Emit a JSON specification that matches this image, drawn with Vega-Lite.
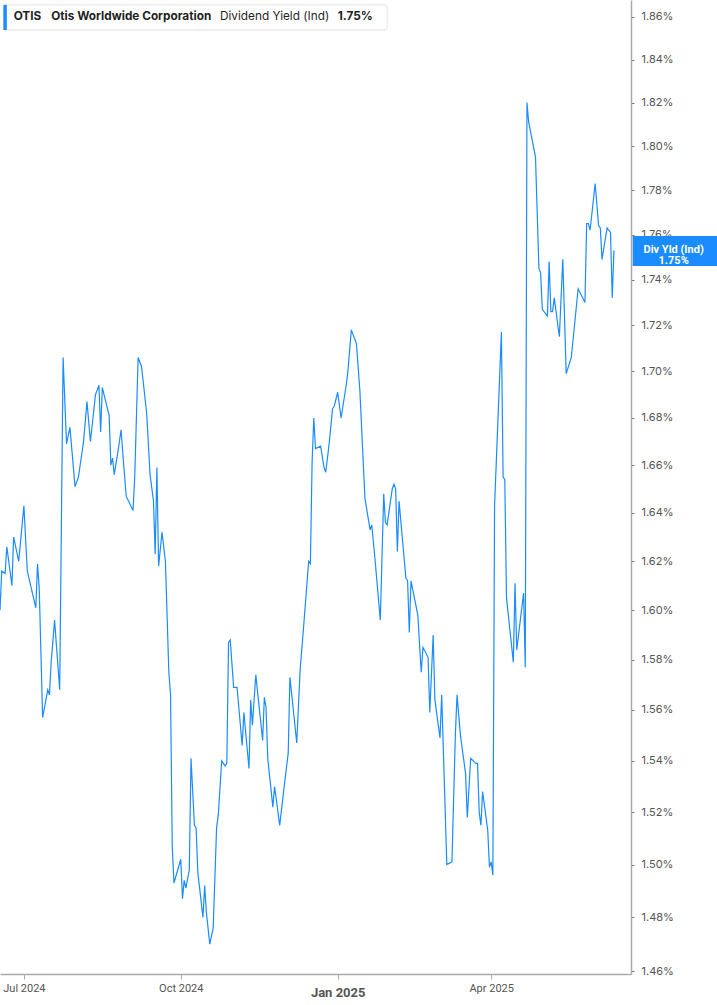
{
  "$schema": "https://vega.github.io/schema/vega-lite/v6.json",
  "width": 631,
  "height": 974,
  "autosize": {"type": "none"},
  "padding": {"left": 0, "top": 0, "right": 86, "bottom": 31},
  "background": "white",
  "config": {"view": {"stroke": null}, "font": "Roboto"},
  "datasets": {
    "otis": [
      {"date": "2024-06-17", "yield": 1.600},
      {"date": "2024-06-18", "yield": 1.616},
      {"date": "2024-06-20", "yield": 1.615},
      {"date": "2024-06-21", "yield": 1.626},
      {"date": "2024-06-24", "yield": 1.610},
      {"date": "2024-06-25", "yield": 1.630},
      {"date": "2024-06-28", "yield": 1.620},
      {"date": "2024-07-01", "yield": 1.643},
      {"date": "2024-07-03", "yield": 1.616},
      {"date": "2024-07-08", "yield": 1.601},
      {"date": "2024-07-09", "yield": 1.619},
      {"date": "2024-07-10", "yield": 1.609},
      {"date": "2024-07-12", "yield": 1.557},
      {"date": "2024-07-15", "yield": 1.568},
      {"date": "2024-07-16", "yield": 1.566},
      {"date": "2024-07-17", "yield": 1.579},
      {"date": "2024-07-19", "yield": 1.596},
      {"date": "2024-07-22", "yield": 1.568},
      {"date": "2024-07-24", "yield": 1.706},
      {"date": "2024-07-26", "yield": 1.669},
      {"date": "2024-07-28", "yield": 1.676},
      {"date": "2024-07-31", "yield": 1.651},
      {"date": "2024-08-02", "yield": 1.655},
      {"date": "2024-08-05", "yield": 1.670},
      {"date": "2024-08-07", "yield": 1.687},
      {"date": "2024-08-09", "yield": 1.670},
      {"date": "2024-08-12", "yield": 1.690},
      {"date": "2024-08-14", "yield": 1.694},
      {"date": "2024-08-15", "yield": 1.674},
      {"date": "2024-08-16", "yield": 1.693},
      {"date": "2024-08-18", "yield": 1.687},
      {"date": "2024-08-20", "yield": 1.681},
      {"date": "2024-08-21", "yield": 1.660},
      {"date": "2024-08-22", "yield": 1.663},
      {"date": "2024-08-23", "yield": 1.656},
      {"date": "2024-08-25", "yield": 1.665},
      {"date": "2024-08-27", "yield": 1.675},
      {"date": "2024-08-28", "yield": 1.665},
      {"date": "2024-08-30", "yield": 1.647},
      {"date": "2024-09-03", "yield": 1.641},
      {"date": "2024-09-04", "yield": 1.655},
      {"date": "2024-09-06", "yield": 1.706},
      {"date": "2024-09-08", "yield": 1.702},
      {"date": "2024-09-11", "yield": 1.682},
      {"date": "2024-09-13", "yield": 1.656},
      {"date": "2024-09-15", "yield": 1.645},
      {"date": "2024-09-16", "yield": 1.623},
      {"date": "2024-09-17", "yield": 1.659},
      {"date": "2024-09-18", "yield": 1.618},
      {"date": "2024-09-20", "yield": 1.632},
      {"date": "2024-09-22", "yield": 1.620},
      {"date": "2024-09-24", "yield": 1.575},
      {"date": "2024-09-25", "yield": 1.566},
      {"date": "2024-09-26", "yield": 1.507},
      {"date": "2024-09-27", "yield": 1.493},
      {"date": "2024-10-01", "yield": 1.502},
      {"date": "2024-10-02", "yield": 1.487},
      {"date": "2024-10-03", "yield": 1.494},
      {"date": "2024-10-04", "yield": 1.491},
      {"date": "2024-10-06", "yield": 1.498},
      {"date": "2024-10-07", "yield": 1.541},
      {"date": "2024-10-09", "yield": 1.515},
      {"date": "2024-10-10", "yield": 1.514},
      {"date": "2024-10-11", "yield": 1.497},
      {"date": "2024-10-14", "yield": 1.480},
      {"date": "2024-10-15", "yield": 1.492},
      {"date": "2024-10-16", "yield": 1.482},
      {"date": "2024-10-18", "yield": 1.470},
      {"date": "2024-10-20", "yield": 1.476},
      {"date": "2024-10-22", "yield": 1.514},
      {"date": "2024-10-23", "yield": 1.519},
      {"date": "2024-10-25", "yield": 1.540},
      {"date": "2024-10-27", "yield": 1.538},
      {"date": "2024-10-28", "yield": 1.539},
      {"date": "2024-10-29", "yield": 1.587},
      {"date": "2024-10-30", "yield": 1.588},
      {"date": "2024-11-01", "yield": 1.569},
      {"date": "2024-11-03", "yield": 1.569},
      {"date": "2024-11-06", "yield": 1.546},
      {"date": "2024-11-07", "yield": 1.559},
      {"date": "2024-11-10", "yield": 1.537},
      {"date": "2024-11-11", "yield": 1.564},
      {"date": "2024-11-12", "yield": 1.554},
      {"date": "2024-11-14", "yield": 1.574},
      {"date": "2024-11-18", "yield": 1.548},
      {"date": "2024-11-19", "yield": 1.565},
      {"date": "2024-11-20", "yield": 1.561},
      {"date": "2024-11-21", "yield": 1.541},
      {"date": "2024-11-24", "yield": 1.522},
      {"date": "2024-11-25", "yield": 1.530},
      {"date": "2024-11-28", "yield": 1.515},
      {"date": "2024-12-01", "yield": 1.532},
      {"date": "2024-12-03", "yield": 1.543},
      {"date": "2024-12-04", "yield": 1.573},
      {"date": "2024-12-08", "yield": 1.547},
      {"date": "2024-12-10", "yield": 1.576},
      {"date": "2024-12-12", "yield": 1.593},
      {"date": "2024-12-14", "yield": 1.611},
      {"date": "2024-12-15", "yield": 1.620},
      {"date": "2024-12-16", "yield": 1.619},
      {"date": "2024-12-17", "yield": 1.661},
      {"date": "2024-12-18", "yield": 1.680},
      {"date": "2024-12-19", "yield": 1.667},
      {"date": "2024-12-22", "yield": 1.668},
      {"date": "2024-12-24", "yield": 1.659},
      {"date": "2024-12-25", "yield": 1.657},
      {"date": "2024-12-27", "yield": 1.669},
      {"date": "2024-12-29", "yield": 1.684},
      {"date": "2024-12-30", "yield": 1.685},
      {"date": "2025-01-01", "yield": 1.691},
      {"date": "2025-01-03", "yield": 1.680},
      {"date": "2025-01-06", "yield": 1.694},
      {"date": "2025-01-07", "yield": 1.700},
      {"date": "2025-01-09", "yield": 1.718},
      {"date": "2025-01-12", "yield": 1.712},
      {"date": "2025-01-14", "yield": 1.692},
      {"date": "2025-01-17", "yield": 1.646},
      {"date": "2025-01-20", "yield": 1.633},
      {"date": "2025-01-21", "yield": 1.635},
      {"date": "2025-01-23", "yield": 1.620},
      {"date": "2025-01-26", "yield": 1.596},
      {"date": "2025-01-28", "yield": 1.648},
      {"date": "2025-01-29", "yield": 1.636},
      {"date": "2025-01-30", "yield": 1.635},
      {"date": "2025-02-02", "yield": 1.650},
      {"date": "2025-02-03", "yield": 1.652},
      {"date": "2025-02-04", "yield": 1.650},
      {"date": "2025-02-05", "yield": 1.624},
      {"date": "2025-02-06", "yield": 1.645},
      {"date": "2025-02-10", "yield": 1.613},
      {"date": "2025-02-11", "yield": 1.612},
      {"date": "2025-02-12", "yield": 1.591},
      {"date": "2025-02-13", "yield": 1.612},
      {"date": "2025-02-17", "yield": 1.598},
      {"date": "2025-02-19", "yield": 1.575},
      {"date": "2025-02-20", "yield": 1.585},
      {"date": "2025-02-23", "yield": 1.581},
      {"date": "2025-02-24", "yield": 1.559},
      {"date": "2025-02-26", "yield": 1.590},
      {"date": "2025-02-27", "yield": 1.564},
      {"date": "2025-03-02", "yield": 1.549},
      {"date": "2025-03-03", "yield": 1.566},
      {"date": "2025-03-06", "yield": 1.500},
      {"date": "2025-03-09", "yield": 1.501},
      {"date": "2025-03-11", "yield": 1.550},
      {"date": "2025-03-12", "yield": 1.566},
      {"date": "2025-03-14", "yield": 1.550},
      {"date": "2025-03-17", "yield": 1.535},
      {"date": "2025-03-18", "yield": 1.518},
      {"date": "2025-03-20", "yield": 1.541},
      {"date": "2025-03-23", "yield": 1.539},
      {"date": "2025-03-24", "yield": 1.539},
      {"date": "2025-03-25", "yield": 1.520},
      {"date": "2025-03-26", "yield": 1.515},
      {"date": "2025-03-27", "yield": 1.528},
      {"date": "2025-03-30", "yield": 1.513},
      {"date": "2025-03-31", "yield": 1.499},
      {"date": "2025-04-01", "yield": 1.501},
      {"date": "2025-04-02", "yield": 1.496},
      {"date": "2025-04-03", "yield": 1.643},
      {"date": "2025-04-07", "yield": 1.717},
      {"date": "2025-04-08", "yield": 1.655},
      {"date": "2025-04-09", "yield": 1.654},
      {"date": "2025-04-10", "yield": 1.605},
      {"date": "2025-04-14", "yield": 1.579},
      {"date": "2025-04-15", "yield": 1.611},
      {"date": "2025-04-16", "yield": 1.584},
      {"date": "2025-04-20", "yield": 1.607},
      {"date": "2025-04-21", "yield": 1.577},
      {"date": "2025-04-22", "yield": 1.820},
      {"date": "2025-04-23", "yield": 1.811},
      {"date": "2025-04-27", "yield": 1.795},
      {"date": "2025-04-29", "yield": 1.745},
      {"date": "2025-04-30", "yield": 1.743},
      {"date": "2025-05-01", "yield": 1.727},
      {"date": "2025-05-04", "yield": 1.724},
      {"date": "2025-05-05", "yield": 1.748},
      {"date": "2025-05-06", "yield": 1.726},
      {"date": "2025-05-07", "yield": 1.726},
      {"date": "2025-05-08", "yield": 1.732},
      {"date": "2025-05-11", "yield": 1.715},
      {"date": "2025-05-13", "yield": 1.749},
      {"date": "2025-05-15", "yield": 1.699},
      {"date": "2025-05-18", "yield": 1.706},
      {"date": "2025-05-22", "yield": 1.736},
      {"date": "2025-05-26", "yield": 1.730},
      {"date": "2025-05-27", "yield": 1.765},
      {"date": "2025-05-28", "yield": 1.765},
      {"date": "2025-05-29", "yield": 1.762},
      {"date": "2025-06-01", "yield": 1.783},
      {"date": "2025-06-03", "yield": 1.764},
      {"date": "2025-06-04", "yield": 1.763},
      {"date": "2025-06-05", "yield": 1.749},
      {"date": "2025-06-08", "yield": 1.763},
      {"date": "2025-06-10", "yield": 1.761},
      {"date": "2025-06-11", "yield": 1.732},
      {"date": "2025-06-12", "yield": 1.753}
    ]
  },
  "layer": [
    {
      "data": {"name": "otis"},
      "mark": {"type": "line", "color": "#1a8cff", "strokeWidth": 1.2},
      "encoding": {
        "x": {
          "field": "date",
          "type": "temporal",
          "scale": {
            "type": "utc",
            "domain": [
              {"year": 2024, "month": 6, "date": 17, "utc": true},
              {"year": 2025, "month": 6, "date": 22, "utc": true}
            ]
          },
          "axis": {
            "title": null,
            "grid": false,
            "values": [
              {"year": 2024, "month": 7, "date": 1, "utc": true},
              {"year": 2024, "month": 10, "date": 1, "utc": true},
              {"year": 2025, "month": 1, "date": 1, "utc": true},
              {"year": 2025, "month": 4, "date": 1, "utc": true}
            ],
            "labelExpr": "utcFormat(datum.value, '%b %Y')",
            "domainColor": "#aaaaaa",
            "domainWidth": 1.5,
            "tickColor": "#aaaaaa",
            "tickSize": 5,
            "labelColor": "#555555",
            "labelFontSize": {"condition": {"test": "utcmonth(datum.value) === 0", "value": 13}, "value": 11},
            "labelFontWeight": {"condition": {"test": "utcmonth(datum.value) === 0", "value": "bold"}, "value": "normal"},
            "labelPadding": {"condition": {"test": "utcmonth(datum.value) === 0", "value": 7}, "value": 3}
          }
        },
        "y": {
          "field": "yield",
          "type": "quantitative",
          "scale": {"type": "log", "domain": [1.4589, 1.868], "nice": false, "zero": false},
          "axis": {
            "title": null,
            "orient": "right",
            "grid": false,
            "values": [1.46, 1.48, 1.5, 1.52, 1.54, 1.56, 1.58, 1.6, 1.62, 1.64, 1.66, 1.68, 1.7, 1.72, 1.74, 1.76, 1.78, 1.8, 1.82, 1.84, 1.86],
            "labelExpr": "format(datum.value, '.2f') + '%'",
            "domainColor": "#aaaaaa",
            "domainWidth": 1.5,
            "tickColor": "#777777",
            "tickSize": 3,
            "labelPadding": 7,
            "labelFont": "Inter",
            "labelFontSize": 11,
            "labelColor": "#555555"
          }
        }
      }
    },
    {
      "data": {"values": [{}]},
      "mark": {"type": "rect", "fill": "white", "stroke": "#e3e3e3", "strokeWidth": 1, "cornerRadius": 3},
      "encoding": {
        "x": {"datum": {"year": 2024, "month": 6, "date": 19, "utc": true}, "type": "temporal"},
        "x2": {"datum": {"year": 2025, "month": 1, "date": 30, "utc": true}},
        "y": {"datum": 1.8657},
        "y2": {"datum": 1.8538}
      }
    },
    {
      "data": {"values": [{}]},
      "mark": {"type": "rect", "fill": "#1a8cff"},
      "encoding": {
        "x": {"datum": {"year": 2024, "month": 6, "date": 19, "utc": true}, "type": "temporal"},
        "x2": {"datum": {"year": 2024, "month": 6, "date": 21, "utc": true}},
        "y": {"datum": 1.8657},
        "y2": {"datum": 1.8538}
      }
    },
    {
      "data": {"values": [{}]},
      "mark": {"type": "text", "text": "OTIS", "font": "Inter", "fontSize": 11.8, "fontWeight": "bold", "color": "#1f1f1f", "align": "left", "baseline": "middle"},
      "encoding": {
        "x": {"datum": {"year": 2024, "month": 6, "date": 25, "utc": true}, "type": "temporal"},
        "y": {"datum": 1.8605}
      }
    },
    {
      "data": {"values": [{}]},
      "mark": {"type": "text", "text": "Otis Worldwide Corporation", "font": "Inter", "fontSize": 11.8, "fontWeight": "bold", "color": "#1f1f1f", "align": "left", "baseline": "middle"},
      "encoding": {
        "x": {"datum": {"year": 2024, "month": 7, "date": 17, "utc": true}, "type": "temporal"},
        "y": {"datum": 1.8605}
      }
    },
    {
      "data": {"values": [{}]},
      "mark": {"type": "text", "text": "Dividend Yield (Ind)", "font": "Inter", "fontSize": 11.8, "fontWeight": "normal", "color": "#1f1f1f", "align": "left", "baseline": "middle"},
      "encoding": {
        "x": {"datum": {"year": 2024, "month": 10, "date": 24, "utc": true}, "type": "temporal"},
        "y": {"datum": 1.8605}
      }
    },
    {
      "data": {"values": [{}]},
      "mark": {"type": "text", "text": "1.75%", "font": "Inter", "fontSize": 11.8, "fontWeight": "bold", "color": "#1f1f1f", "align": "left", "baseline": "middle"},
      "encoding": {
        "x": {"datum": {"year": 2025, "month": 1, "date": 1, "utc": true}, "type": "temporal"},
        "y": {"datum": 1.8605}
      }
    },
    {
      "data": {"values": [{}]},
      "mark": {"type": "rect", "fill": "#1a8cff"},
      "encoding": {
        "x": {"datum": {"year": 2025, "month": 6, "date": 23, "utc": true}, "type": "temporal"},
        "x2": {"datum": {"year": 2025, "month": 8, "date": 12, "utc": true}},
        "y": {"datum": 1.7594},
        "y2": {"datum": 1.7461}
      }
    },
    {
      "data": {"values": [{}]},
      "mark": {"type": "text", "text": ["Div Yld (Ind)", "1.75%"], "font": "Roboto", "fontSize": 11, "fontWeight": "bold", "color": "white", "align": "center", "baseline": "middle", "lineHeight": 11},
      "encoding": {
        "x": {"datum": {"year": 2025, "month": 7, "date": 17, "utc": true}, "type": "temporal"},
        "y": {"datum": 1.753}
      }
    }
  ]
}
